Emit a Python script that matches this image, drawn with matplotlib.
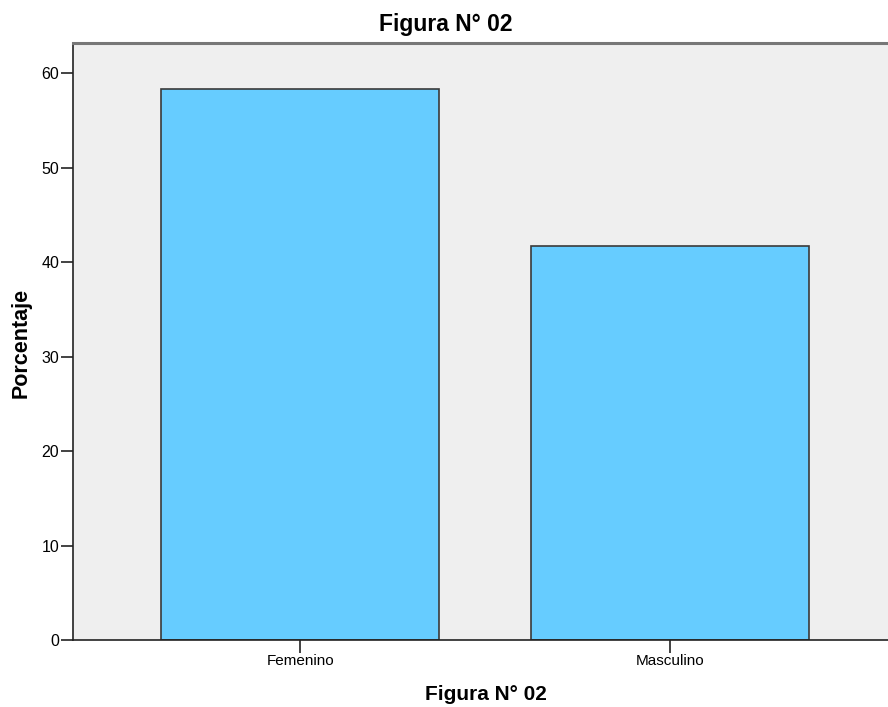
import matplotlib
matplotlib.use("Agg")
import matplotlib.pyplot as plt

plt.rcParams['font.family'] = ['Liberation Sans', 'DejaVu Sans']

categories = ["Femenino", "Masculino"]
porcentaje = [58.3, 41.7]
yticks = [0, 10, 20, 30, 40, 50, 60]

fig = plt.figure(figsize=(8.88, 7.07), dpi=100)
W, H = 888, 707
ax = fig.add_axes([73 / W, (H - 640) / H, 824 / W, (640 - 43) / H])
ax.set_facecolor("#EFEFEF")

x = list(range(len(categories)))
ax.bar(x, porcentaje, width=0.75, color="#66CCFF", edgecolor="#3a3a3a", linewidth=1.2, zorder=2)

ax.set_xlim(-0.614, 1.614)
ax.set_ylim(0, 63.2)
ax.set_xticks(x)
ax.set_xticklabels(categories, fontsize=11)
ax.set_yticks(yticks)
ax.set_yticklabels([str(v) for v in yticks], fontsize=11.5)
ax.tick_params(axis="both", direction="out", length=9, width=1.2, color="#222222", pad=1)

for s in ["left", "bottom"]:
    ax.spines[s].set_color("#222222")
    ax.spines[s].set_linewidth(1.2)
ax.spines["top"].set_color("#777777")
ax.spines["top"].set_linewidth(2.2)
ax.spines["right"].set_visible(False)

fig.text(446 / W, 1 - 24 / H, "Figura N° 02", ha="center", va="center", fontsize=16.5, fontweight="bold")
fig.text(486 / W, 1 - 695 / H, "Figura N° 02", ha="center", va="center", fontsize=15, fontweight="bold")
fig.text(21 / W, 1 - 343 / H, "Porcentaje", ha="center", va="center", rotation=90, fontsize=15.5, fontweight="bold")

fig.savefig("out.png", dpi=100)
